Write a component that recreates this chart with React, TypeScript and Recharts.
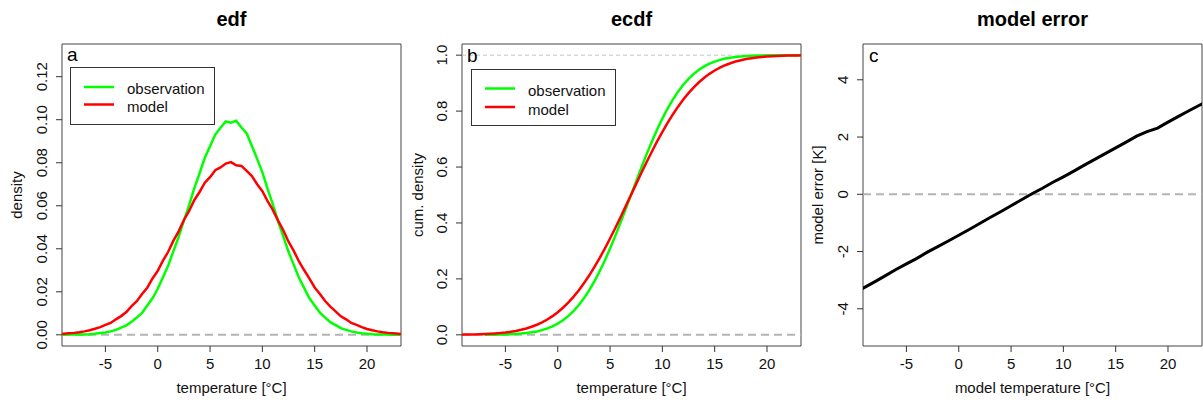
import React from "react";
import { LineChart, Line, XAxis, YAxis, ReferenceLine, ReferenceArea } from "recharts";

const FONT = "'Liberation Sans', Arial, Helvetica, sans-serif";

// temperature grid [°C]
const temps = [
  -9.5, -9, -8.5, -8, -7.5, -7, -6.5, -6, -5.5, -5,
  -4.5, -4, -3.5, -3, -2.5, -2, -1.5, -1, -0.5, 0,
  0.5, 1, 1.5, 2, 2.5, 3, 3.5, 4, 4.5, 5,
  5.5, 6, 6.5, 7, 7.5, 8, 8.5, 9, 9.5, 10,
  10.5, 11, 11.5, 12, 12.5, 13, 13.5, 14, 14.5, 15,
  15.5, 16, 16.5, 17, 17.5, 18, 18.5, 19, 19.5, 20,
  20.5, 21, 21.5, 22, 22.5, 23, 23.5,
];

const obsDensity = [
  0, 0, 0.0001, 0.0001, 0.0001, 0.0002, 0.0003, 0.0005, 0.0008, 0.0011,
  0.0016, 0.0023, 0.0033, 0.0044, 0.0061, 0.008, 0.0102, 0.0136, 0.017, 0.0214,
  0.0268, 0.0322, 0.0389, 0.0455, 0.0531, 0.0603, 0.0682, 0.0751, 0.0823, 0.0877,
  0.0931, 0.0963, 0.0992, 0.0986, 0.0995, 0.0964, 0.0936, 0.0878, 0.0818, 0.0755,
  0.0678, 0.0606, 0.0528, 0.0458, 0.0386, 0.0325, 0.0265, 0.0217, 0.017, 0.0136,
  0.0103, 0.008, 0.0059, 0.0045, 0.0031, 0.0023, 0.0016, 0.0011, 0.0007, 0.0005,
  0.0003, 0.0002, 0.0001, 0.0001, 0, 0, 0,
];

const modelDensity = [
  0.0003, 0.0005, 0.0007, 0.0009, 0.0012, 0.0016, 0.0021, 0.0028, 0.0036, 0.0046,
  0.0055, 0.0072, 0.0087, 0.0106, 0.0133, 0.0156, 0.019, 0.0219, 0.0262, 0.0297,
  0.0345, 0.0386, 0.0438, 0.0481, 0.0534, 0.0576, 0.0627, 0.0664, 0.0707, 0.0733,
  0.0765, 0.0778, 0.0796, 0.0803, 0.0788, 0.0785, 0.0762, 0.0738, 0.07, 0.0668,
  0.0622, 0.0581, 0.0531, 0.0486, 0.0433, 0.039, 0.0341, 0.03, 0.0261, 0.022,
  0.019, 0.0157, 0.0131, 0.0109, 0.0086, 0.0072, 0.0055, 0.0046, 0.0036, 0.0027,
  0.0021, 0.0016, 0.0012, 0.0009, 0.0007, 0.0005, 0.0003,
];

const obsCdf = [
  null, null, null, null, null, 0.0002, 0.0004, 0.0006, 0.0009, 0.0013,
  0.002, 0.003, 0.0043, 0.0062, 0.0088, 0.0122, 0.0168, 0.0228, 0.0304, 0.0401,
  0.0521, 0.0668, 0.0846, 0.1057, 0.1303, 0.1587, 0.1908, 0.2266, 0.266, 0.3085,
  0.3538, 0.4013, 0.4503, 0.5, 0.5497, 0.5987, 0.6462, 0.6915, 0.734, 0.7734,
  0.8092, 0.8413, 0.8697, 0.8943, 0.9154, 0.9332, 0.9479, 0.9599, 0.9696, 0.9772,
  0.9832, 0.9878, 0.9912, 0.9938, 0.9957, 0.997, 0.998, 0.9987, 0.9991, 0.9994,
  0.9996, 0.9998, 0.9999, 1, 1, 1, 1,
];

const modelCdf = [
  0.0005, 0.0007, 0.001, 0.0013, 0.0019, 0.0026, 0.0035, 0.0047, 0.0062, 0.0082,
  0.0107, 0.0139, 0.0179, 0.0228, 0.0287, 0.0359, 0.0446, 0.0548, 0.0668, 0.0808,
  0.0968, 0.1151, 0.1357, 0.1587, 0.1841, 0.2119, 0.242, 0.2743, 0.3085, 0.3446,
  0.3821, 0.4207, 0.4602, 0.5, 0.5398, 0.5793, 0.6179, 0.6554, 0.6915, 0.7257,
  0.758, 0.7881, 0.8159, 0.8413, 0.8643, 0.8849, 0.9032, 0.9192, 0.9332, 0.9452,
  0.9554, 0.9641, 0.9713, 0.9772, 0.9821, 0.9861, 0.9893, 0.9918, 0.9938, 0.9953,
  0.9965, 0.9974, 0.9981, 0.9987, 0.999, 0.9993, 0.9995,
];

const errTemps = [
  -9.5, -9, -8, -7, -6, -5, -4, -3, -2, -1, 0, 1, 2, 3, 4, 5, 6, 7, 8, 9, 10,
  11, 12, 13, 14, 15, 16, 17, 18, 19, 20, 21, 22, 23, 23.5,
];
const modelError = [
  -3.35, -3.25, -3.05, -2.84, -2.63, -2.43, -2.24, -2.02, -1.83, -1.63, -1.43, -1.23, -1.02, -0.81, -0.61, -0.4, -0.19, 0.02, 0.21, 0.42, 0.61,
  0.81, 1.02, 1.22, 1.42, 1.62, 1.82, 2.03, 2.19, 2.31, 2.52, 2.72, 2.92, 3.11, 3.2,
];

const xTicks = [-5, 0, 5, 10, 15, 20];
const densityTicks = [0, 0.02, 0.04, 0.06, 0.08, 0.1, 0.12];
const cdfTicks = [0, 0.2, 0.4, 0.6, 0.8, 1];
const errTicks = [-4, -2, 0, 2, 4];

const X_DOMAIN: [number, number] = [-9.15, 23.25];
const DENS_DOMAIN: [number, number] = [-0.0052, 0.1352];
const CDF_DOMAIN: [number, number] = [-0.04, 1.04];
const ERR_DOMAIN: [number, number] = [-5.3, 5.25];

const densityData = temps.map((t, i) => ({ t, obs: obsDensity[i], model: modelDensity[i] }));
const cdfData = temps.map((t, i) => ({ t, obs: obsCdf[i], model: modelCdf[i] }));
const errData = errTemps.map((t, i) => ({ t, err: modelError[i] }));

const GREEN = "#00ff00";
const RED = "#ff0000";
const BOX = "#444444";
const TXT = "#111111";

const makeYTick = (fmt: (v: number) => string) => (props: any) => {
  const { x, y, payload } = props;
  const bx = x - 7;
  return (
    <text
      x={bx}
      y={y}
      transform={`rotate(-90 ${bx} ${y})`}
      textAnchor="middle"
      fontSize={15}
      fontFamily={FONT}
      fill={TXT}
    >
      {fmt(payload.value)}
    </text>
  );
};

const W = 402;
const H = 405;
const MARGIN = { top: 44, right: 1, bottom: 0, left: 0 };

function Frame({ yDomain }: { yDomain: [number, number] }) {
  return (
    <ReferenceArea
      x1={X_DOMAIN[0]}
      x2={X_DOMAIN[1]}
      y1={yDomain[0]}
      y2={yDomain[1]}
      fill="none"
      fillOpacity={0}
      stroke={BOX}
      strokeWidth={1}
    />
  );
}

const xAxisProps = {
  dataKey: "t",
  type: "number" as const,
  domain: X_DOMAIN,
  ticks: xTicks,
  interval: 0 as const,
  allowDataOverflow: true,
  axisLine: false,
  tickLine: { stroke: "#333" },
  tickSize: 6,
  tickMargin: 6,
  height: 59,
  tick: { fontSize: 15, fontFamily: FONT, fill: TXT },
};

function Overlay() {
  const title = { fontSize: 20, fontWeight: 700, fontFamily: FONT, fill: "#000", textAnchor: "middle" as const };
  const lab = { fontSize: 15, fontFamily: FONT, fill: TXT, textAnchor: "middle" as const };
  const leg = { fontSize: 15, fontFamily: FONT, fill: TXT };
  return (
    <svg width={1203} height={405} style={{ position: "absolute", left: 0, top: 0, pointerEvents: "none" }}>
      <text x={231.5} y={26} {...title}>edf</text>
      <text x={631.5} y={26} {...title}>ecdf</text>
      <text x={1032.5} y={26} {...title}>model error</text>

      <text x={231.5} y={393} {...lab}>temperature [°C]</text>
      <text x={631.5} y={393} {...lab}>temperature [°C]</text>
      <text x={1032.5} y={393} {...lab}>model temperature [°C]</text>

      <text x={22} y={195} transform="rotate(-90 22 195)" {...lab}>density</text>
      <text x={423} y={195} transform="rotate(-90 423 195)" {...lab}>cum. density</text>
      <text x={823} y={195} transform="rotate(-90 823 195)" {...lab}>model error [K]</text>

      <text x={67} y={61} fontSize={19} fontFamily={FONT} fill="#000">a</text>
      <text x={467} y={62} fontSize={19} fontFamily={FONT} fill="#000">b</text>
      <text x={869} y={62} fontSize={19} fontFamily={FONT} fill="#000">c</text>

      <rect x={70.5} y={67.5} width={144} height={57} fill="#fff" stroke="#333" strokeWidth={1} />
      <line x1={84} x2={114} y1={87} y2={87} stroke={GREEN} strokeWidth={2.5} />
      <line x1={84} x2={114} y1={104.5} y2={104.5} stroke={RED} strokeWidth={2.5} />
      <text x={127} y={94} {...leg}>observation</text>
      <text x={127} y={112} {...leg}>model</text>

      <rect x={471.5} y={69.5} width={144} height={56} fill="#fff" stroke="#333" strokeWidth={1} />
      <line x1={485} x2={515} y1={88.5} y2={88.5} stroke={GREEN} strokeWidth={2.5} />
      <line x1={485} x2={515} y1={107} y2={107} stroke={RED} strokeWidth={2.5} />
      <text x={528} y={96} {...leg}>observation</text>
      <text x={528} y={114.5} {...leg}>model</text>
    </svg>
  );
}

export default function App() {
  return (
    <div style={{ position: "absolute", left: 0, top: 0, width: 1203, height: 405, background: "#fff", overflow: "hidden" }}>
      <div style={{ position: "absolute", left: 0, top: 0 }}>
        <LineChart width={W} height={H} data={densityData} margin={MARGIN}>
          <XAxis {...xAxisProps} />
          <YAxis
            type="number"
            domain={DENS_DOMAIN}
            ticks={densityTicks}
            interval={0}
            allowDataOverflow
            axisLine={false}
            tickLine={{ stroke: "#333" }}
            tickSize={6}
            tickMargin={2}
            width={62}
            tick={makeYTick((v) => v.toFixed(2))}
          />
          <ReferenceLine y={0} stroke="#b4b4b4" strokeWidth={2} strokeDasharray="8 5" />
          <Line type="linear" dataKey="obs" stroke={GREEN} strokeWidth={2.5} dot={false} isAnimationActive={false} />
          <Line type="linear" dataKey="model" stroke={RED} strokeWidth={2.5} dot={false} isAnimationActive={false} />
          {Frame({ yDomain: DENS_DOMAIN })}
        </LineChart>
      </div>
      <div style={{ position: "absolute", left: 400, top: 0 }}>
        <LineChart width={W} height={H} data={cdfData} margin={MARGIN}>
          <XAxis {...xAxisProps} />
          <YAxis
            type="number"
            domain={CDF_DOMAIN}
            ticks={cdfTicks}
            interval={0}
            allowDataOverflow
            axisLine={false}
            tickLine={{ stroke: "#333" }}
            tickSize={6}
            tickMargin={2}
            width={62}
            tick={makeYTick((v) => v.toFixed(1))}
          />
          <ReferenceLine y={0} stroke="#b4b4b4" strokeWidth={2} strokeDasharray="8 5" />
          <ReferenceLine y={1} stroke="#c4c4c4" strokeWidth={1} strokeDasharray="4 3" />
          <Line type="linear" dataKey="obs" stroke={GREEN} strokeWidth={2.5} dot={false} isAnimationActive={false} connectNulls={false} />
          <Line type="linear" dataKey="model" stroke={RED} strokeWidth={2.5} dot={false} isAnimationActive={false} />
          {Frame({ yDomain: CDF_DOMAIN })}
        </LineChart>
      </div>
      <div style={{ position: "absolute", left: 801, top: 0 }}>
        <LineChart width={W} height={H} data={errData} margin={MARGIN}>
          <XAxis {...xAxisProps} />
          <YAxis
            type="number"
            domain={ERR_DOMAIN}
            ticks={errTicks}
            interval={0}
            allowDataOverflow
            axisLine={false}
            tickLine={{ stroke: "#333" }}
            tickSize={6}
            tickMargin={2}
            width={62}
            tick={makeYTick((v) => String(v))}
          />
          <ReferenceLine y={0} stroke="#b4b4b4" strokeWidth={2} strokeDasharray="8 5" />
          <Line type="linear" dataKey="err" stroke="#000" strokeWidth={3} dot={false} isAnimationActive={false} />
          {Frame({ yDomain: ERR_DOMAIN })}
        </LineChart>
      </div>
      <Overlay />
    </div>
  );
}
